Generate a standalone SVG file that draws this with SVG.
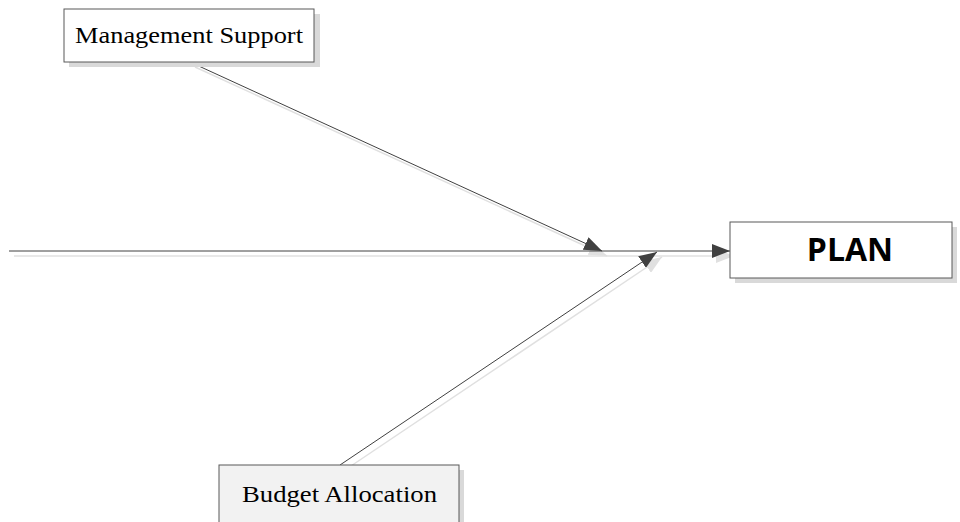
<svg xmlns="http://www.w3.org/2000/svg" width="960" height="522" viewBox="0 0 960 522">
<defs>
<style>
.box{stroke:#595959;stroke-width:1;}
.shadow{fill:#d9d9d9;stroke:none;}
.ln{stroke:#404040;stroke-width:1;fill:none;}
.lns{stroke:#e0e0e0;stroke-width:1.5;fill:none;}
.serif{font-family:"Liberation Serif","Times New Roman",serif;font-size:22.5px;fill:#000;}
.bold{font-family:"Open Sans","Noto Sans",sans-serif;font-weight:bold;font-size:32px;fill:#000;}
</style>
<marker id="ah" markerWidth="18" markerHeight="14" refX="18" refY="7" orient="auto" markerUnits="userSpaceOnUse">
<path d="M0,0 L18,7 L0,14 Z" fill="#404040"/>
</marker>
<marker id="ahs" markerWidth="18" markerHeight="14" refX="18" refY="7" orient="auto" markerUnits="userSpaceOnUse">
<path d="M0,0 L18,7 L0,14 Z" fill="#e0e0e0"/>
</marker>
</defs>
<g id="connectors">
<line class="lns" x1="14" y1="256" x2="734" y2="256" marker-end="url(#ahs)"/>
<line class="lns" x1="195" y1="67" x2="607" y2="256" marker-end="url(#ahs)"/>
<line class="lns" x1="345" y1="470" x2="662" y2="257" marker-end="url(#ahs)"/>
<line class="ln" x1="9" y1="251" x2="730" y2="251" marker-end="url(#ah)"/>
<line class="ln" x1="190" y1="62" x2="602" y2="251" marker-end="url(#ah)"/>
<line class="ln" x1="340" y1="465" x2="657" y2="252" marker-end="url(#ah)"/>
</g>
<g id="management-support">
<rect class="shadow" x="69" y="14" width="251" height="53"/>
<rect class="box" x="64" y="9" width="250" height="53" fill="#ffffff"/>
<text class="serif" x="75" y="42.5" textLength="228" lengthAdjust="spacingAndGlyphs">Management Support</text>
</g>
<g id="plan">
<rect class="shadow" x="735" y="227" width="222" height="56"/>
<rect class="box" x="730" y="222" width="222" height="56" fill="#ffffff"/>
<text class="bold" x="850" y="261" text-anchor="middle">PLAN</text>
</g>
<g id="budget-allocation">
<rect class="shadow" x="224" y="470" width="240" height="60"/>
<rect class="box" x="219" y="465" width="240" height="60" fill="#f2f2f2"/>
<text class="serif" x="242" y="501.5" textLength="195" lengthAdjust="spacingAndGlyphs">Budget Allocation</text>
</g>
</svg>
